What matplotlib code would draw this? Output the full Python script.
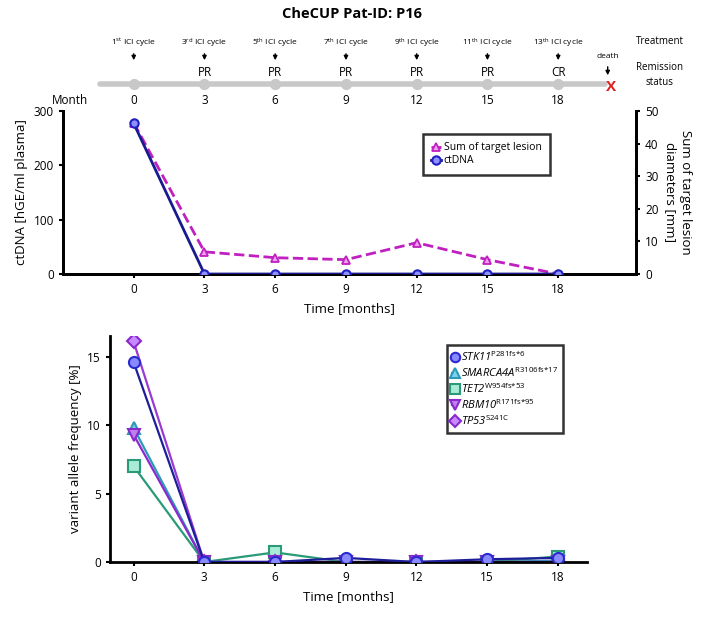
import numpy as np
import matplotlib
matplotlib.use("Agg")
import matplotlib.pyplot as plt

plt.rcParams['font.family'] = ['Open Sans', 'DejaVu Sans']
plt.rcParams['mathtext.fontset'] = 'custom'
plt.rcParams['mathtext.rm'] = 'Open Sans:italic'
plt.rcParams['mathtext.it'] = 'Open Sans:italic'
plt.rcParams['mathtext.sf'] = 'Open Sans'

# data
months = [0, 3, 6, 9, 12, 15, 18]
ctdna = [277, 0, 0, 0, 0, 0, 0]
lesion = [46.3, 6.8, 5, 4.4, 9.6, 4.4, 0]

cycles = [r"1$^{\mathsf{st}}$", r"3$^{\mathsf{rd}}$", r"5$^{\mathsf{th}}$", r"7$^{\mathsf{th}}$",
          r"9$^{\mathsf{th}}$", r"11$^{\mathsf{th}}$", r"13$^{\mathsf{th}}$"]
status = ["", "PR", "PR", "PR", "PR", "PR", "CR"]

genes = [r"$\mathit{STK11}^{\mathsf{P281fs{*}6}}$",
         r"$\mathit{SMARCA4A}^{\mathsf{R3106fs{*}17}}$",
         r"$\mathit{TET2}^{\mathsf{W954fs{*}53}}$",
         r"$\mathit{RBM10}^{\mathsf{R171fs{*}95}}$",
         r"$\mathit{TP53}^{\mathsf{S241C}}$"]
stk11 = [14.6, 0, 0, 0.3, 0, 0.2, 0.3]
smarca4a = [9.8, 0, 0, 0, 0, 0, 0.1]
tet2 = [7.0, 0, 0.7, 0, 0, 0, 0.4]
rbm10 = [9.3, 0, 0, 0, 0, 0, 0]
tp53 = [16.1, 0, 0, 0, 0, 0, 0]

fig = plt.figure(figsize=(7.04, 6.17), dpi=100)
fig.text(0.5, 0.977, "CheCUP Pat-ID: P16", ha="center", va="center", fontsize=10.5, fontweight="bold")

# timeline header
tl = fig.add_axes([63/704, 1-110/617, 573/704, 80/617])
tl.set_xlim(-3, 21.3)
tl.set_ylim(110, 30)
tl.axis("off")
tl.plot([-1.45, 20.0], [84, 84], color="#c8c8c8", lw=4, solid_capstyle="round", zorder=1)
tl.scatter(months, [84]*len(months), s=50, color="#c8c8c8", zorder=2)
tl.text(20.25, 87, "X", color="#e02020", fontsize=11, fontweight="bold", ha="center", va="center")
tl.text(20.1, 57, "death", fontsize=6, ha="center", va="center")
tl.annotate("", xy=(20.1, 78), xytext=(20.1, 64),
            arrowprops=dict(arrowstyle="-|>", color="black", lw=1, mutation_scale=6))
for m, c, s in zip(months, cycles, status):
    tl.text(m, 43, c + " ICI cycle", fontsize=6, ha="center", va="center")
    tl.annotate("", xy=(m, 63), xytext=(m, 51),
                arrowprops=dict(arrowstyle="-|>", color="black", lw=1, mutation_scale=6))
    if s:
        tl.text(m, 72, s, fontsize=8.5, ha="center", va="center")
    tl.text(m, 101, str(m), fontsize=8.5, ha="center", va="center")
tl.text(-2.7, 101, "Month", fontsize=8.5, ha="center", va="center")
tl.text(22.3, 42, "Treatment", fontsize=7, ha="center", va="center", clip_on=False)
tl.text(22.3, 75, "Remission\nstatus", fontsize=7, ha="center", va="center", clip_on=False, linespacing=1.5)

# top panel
ax = fig.add_axes([63/704, 1-274/617, 573/704, 163/617])
ax2 = ax.twinx()
ax.set_xlim(-3, 21.3)
ax.set_ylim(0, 300)
ax2.set_ylim(0, 50)
l2, = ax2.plot(months, lesion, color="#c020c0", ls="--", lw=2, marker="^", ms=6,
               mfc="#f0a0f0", mec="#c020c0", mew=1.3, label="Sum of target lesion")
l1, = ax.plot(months, ctdna, color="#1a1a90", lw=2, marker="o", ms=6,
              mfc="#9090ff", mec="#2020c0", mew=1.5, label="ctDNA", zorder=5)
ax.set_zorder(ax2.get_zorder() + 1)
ax.patch.set_visible(False)
ax.set_xticks(months)
ax.set_yticks([0, 100, 200, 300])
ax2.set_yticks([0, 10, 20, 30, 40, 50])
for a in (ax, ax2):
    a.spines["top"].set_visible(False)
    for sp in ("left", "right", "bottom"):
        a.spines[sp].set_linewidth(2)
    a.tick_params(width=1.5, length=3, labelsize=8.5)
ax.set_xlabel("Time [months]", fontsize=9.5)
ax.set_ylabel("ctDNA [hGE/ml plasma]", fontsize=9.5)
ax2.set_ylabel("Sum of target lesion\ndiameters [mm]", fontsize=9.5, rotation=270, labelpad=24)
leg = ax.legend([l2, l1], ["Sum of target lesion", "ctDNA"], loc="upper left",
                bbox_to_anchor=(0.628, 0.86), fontsize=7.5, frameon=True, fancybox=False,
                handlelength=0.9, borderpad=0.8, handletextpad=0.3, labelspacing=0.2,
                borderaxespad=0)
leg.get_frame().set_edgecolor("black")
leg.get_frame().set_linewidth(1.8)

# bottom panel
bx = fig.add_axes([110/704, 1-562/617, 477/704, 226/617])
bx.set_xlim(-1, 19.25)
bx.set_ylim(0, 16.5)
series = [
    (stk11, "#1e1e9a", "o", "#8a8aff", "#2a2ad0"),
    (smarca4a, "#2a9ab8", "^", "#7fd0ef", "#2a9ab8"),
    (tet2, "#2a9a78", "s", "#a8ecd6", "#2a9a78"),
    (rbm10, "#8a2acc", "v", "#c080f0", "#8a2acc"),
    (tp53, "#9a3ad0", "D", "#c888ff", "#8a2acc"),
]
handles = []
for (vals, lc, mk, fc, ec), g in zip(series, genes):
    h, = bx.plot(months, vals, color=lc, lw=1.6, marker=mk, ms=8 if mk != "D" else 7,
                 mfc=fc, mec=ec, mew=1.5, label=g)
    handles.append(h)
# draw STK11 on top to match the reference
handles[0].set_zorder(5)
bx.set_xticks(months)
bx.set_yticks([0, 5, 10, 15])
bx.spines["top"].set_visible(False)
bx.spines["right"].set_visible(False)
bx.spines["left"].set_linewidth(2)
bx.spines["bottom"].set_linewidth(2)
bx.tick_params(width=1.5, length=3, labelsize=8.5)
bx.set_xlabel("Time [months]", fontsize=9.5)
bx.set_ylabel("variant allele frequency [%]", fontsize=9.5)
leg2 = bx.legend(handles=handles, loc="upper left", bbox_to_anchor=(0.706, 0.96), fontsize=8,
                 frameon=True, fancybox=False, handlelength=0.5, borderpad=0.45,
                 handletextpad=0.3, labelspacing=0.2, borderaxespad=0, markerscale=0.85)
leg2.get_frame().set_edgecolor("black")
leg2.get_frame().set_linewidth(1.8)

fig.savefig("out.png", dpi=100)
